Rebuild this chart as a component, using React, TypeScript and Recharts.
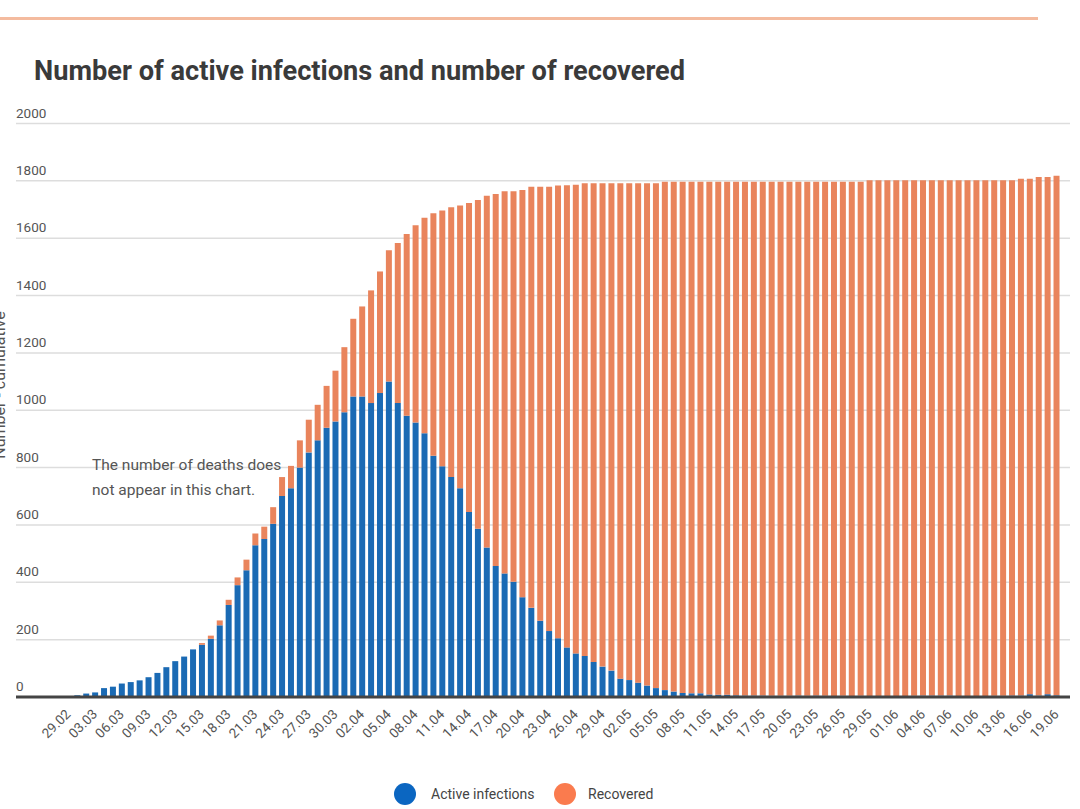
import { BarChart, Bar, XAxis, YAxis, CartesianGrid } from 'recharts';

const dates = [
  '29.02',
  '01.03', '02.03', '03.03', '04.03', '05.03', '06.03', '07.03', '08.03', '09.03', '10.03',
  '11.03', '12.03', '13.03', '14.03', '15.03', '16.03', '17.03', '18.03', '19.03', '20.03',
  '21.03', '22.03', '23.03', '24.03', '25.03', '26.03', '27.03', '28.03', '29.03', '30.03', '31.03',
  '01.04', '02.04', '03.04', '04.04', '05.04', '06.04', '07.04', '08.04', '09.04', '10.04',
  '11.04', '12.04', '13.04', '14.04', '15.04', '16.04', '17.04', '18.04', '19.04', '20.04',
  '21.04', '22.04', '23.04', '24.04', '25.04', '26.04', '27.04', '28.04', '29.04', '30.04',
  '01.05', '02.05', '03.05', '04.05', '05.05', '06.05', '07.05', '08.05', '09.05', '10.05',
  '11.05', '12.05', '13.05', '14.05', '15.05', '16.05', '17.05', '18.05', '19.05', '20.05',
  '21.05', '22.05', '23.05', '24.05', '25.05', '26.05', '27.05', '28.05', '29.05', '30.05', '31.05',
  '01.06', '02.06', '03.06', '04.06', '05.06', '06.06', '07.06', '08.06', '09.06', '10.06',
  '11.06', '12.06', '13.06', '14.06', '15.06', '16.06', '17.06', '18.06', '19.06',
];

const active = [
  0, 6, 12, 16, 31, 36, 47, 52, 58, 69,
  84, 104, 125, 141, 166, 182, 203, 250, 321, 390,
  442, 529, 551, 604, 701, 728, 800, 853, 895, 939,
  961, 993, 1048, 1048, 1025, 1060, 1100, 1025, 981, 957,
  920, 841, 805, 767, 728, 645, 587, 521, 457, 431,
  402, 348, 311, 266, 230, 205, 173, 152, 143, 122,
  106, 92, 64, 59, 50, 40, 31, 24, 19, 14,
  13, 13, 9, 8, 8, 6, 5, 5, 5, 4,
  4, 4, 5, 4, 5, 4, 3, 4, 3, 4,
  3, 3, 2, 3, 3, 4, 5, 5, 5, 5,
  3, 2, 2, 2, 4, 4, 5, 5, 10, 5,
  10, 6,
];

const recovered = [
  0, 0, 0, 0, 0, 0, 0, 0, 0, 0,
  0, 0, 0, 0, 0, 6, 11, 17, 18, 27,
  37, 41, 43, 58, 66, 78, 95, 114, 124, 146,
  177, 227, 271, 314, 393, 424, 458, 558, 634, 688,
  751, 846, 892, 941, 986, 1078, 1146, 1227, 1297, 1333,
  1362, 1420, 1468, 1513, 1549, 1579, 1612, 1634, 1649, 1670,
  1686, 1700, 1728, 1733, 1742, 1752, 1761, 1773, 1778, 1783,
  1784, 1784, 1788, 1789, 1789, 1791, 1792, 1792, 1792, 1793,
  1793, 1793, 1792, 1793, 1792, 1793, 1794, 1793, 1794, 1793,
  1799, 1799, 1800, 1799, 1799, 1798, 1797, 1797, 1797, 1797,
  1799, 1800, 1800, 1800, 1798, 1798, 1797, 1802, 1797, 1808,
  1803, 1812,
];

const yTicks = [0, 200, 400, 600, 800, 1000, 1200, 1400, 1600, 1800, 2000];

const data = dates.map((date, i) => ({ date, active: active[i], recovered: recovered[i] }));

const FONT = 'Roboto, sans-serif';
const BLUE = '#1a6ab4';
const ORANGE = '#e9845c';

function YTick(props: any) {
  const { x, y, payload } = props;
  return (
    <text x={x} y={y - 6} textAnchor="start" fill="#555" fontSize={13.5} fontFamily={FONT}>
      {payload.value}
    </text>
  );
}

function XTick(props: any) {
  const { x, y, payload } = props;
  const px = x + 3;
  const py = y + 18;
  return (
    <text x={px} y={py} transform={`rotate(-45, ${px}, ${py})`} textAnchor="end" fill="#555" fontSize={13.5} fontFamily={FONT}>
      {payload.value}
    </text>
  );
}

export default function App() {
  return (
    <div style={{ position: 'absolute', left: 0, top: 0, width: 1080, height: 809, background: '#fff', overflow: 'hidden' }}>
      <div style={{ position: 'absolute', left: 0, top: 17, width: 1038, height: 3, background: '#f4bb9f' }} />
      <BarChart
        width={1080}
        height={809}
        data={data}
        margin={{ top: 123.5, right: 10, left: 15, bottom: 52 }}
        barCategoryGap="16%"
        style={{ position: 'absolute', left: 0, top: 0 }}
      >
        <CartesianGrid vertical={false} stroke="#dddddd" strokeWidth={1.5} />
        <YAxis
          width={1}
          domain={[0, 2000]}
          ticks={yTicks}
          interval={0}
          axisLine={false}
          tickLine={false}
          tickSize={0}
          tickMargin={0}
          tick={(p: any) => <YTick {...p} />}
        />
        <XAxis
          dataKey="date"
          height={60}
          interval={2}
          padding={{ left: 48, right: 9 }}
          axisLine={{ stroke: '#444', strokeWidth: 3 }}
          tickLine={false}
          tickSize={0}
          tickMargin={0}
          tick={(p: any) => <XTick {...p} />}
        />
        <Bar dataKey="active" stackId="a" fill={BLUE} isAnimationActive={false} />
        <Bar dataKey="recovered" stackId="a" fill={ORANGE} isAnimationActive={false} />
      </BarChart>
      <svg width={1080} height={809} style={{ position: 'absolute', left: 0, top: 0, pointerEvents: 'none' }}>
        <text x={34} y={80} fill="#3a3a3a" fontSize={27.2} fontWeight={700} fontFamily={FONT}>
          Number of active infections and number of recovered
        </text>
        <text x={5} y={385} transform="rotate(-90, 5, 385)" textAnchor="middle" fill="#555" fontSize={16} fontFamily={FONT}>
          Number - cumulative
        </text>
        <text x={92} y={470} fill="#555" fontSize={15.5} fontFamily={FONT}>
          The number of deaths does
        </text>
        <text x={92} y={495} fill="#555" fontSize={15.5} fontFamily={FONT}>
          not appear in this chart.
        </text>
        <circle cx={405} cy={794} r={11} fill="#0b66c1" />
        <text x={431} y={799} fill="#444" fontSize={14} fontFamily={FONT}>
          Active infections
        </text>
        <circle cx={565} cy={794} r={11} fill="#fa7b4e" />
        <text x={588} y={799} fill="#444" fontSize={14} fontFamily={FONT}>
          Recovered
        </text>
      </svg>
    </div>
  );
}
